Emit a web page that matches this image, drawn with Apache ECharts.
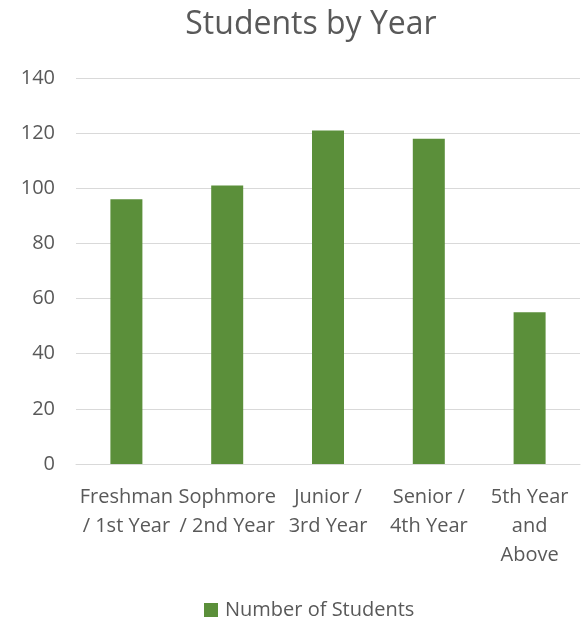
<!DOCTYPE html>
<html>
<head>
<meta charset="utf-8">
<script src="https://cdn.jsdelivr.net/npm/echarts@6/dist/echarts.min.js"></script>
<style>
  html, body { margin: 0; padding: 0; background: #fff; }
  #chart { width: 584px; height: 619px; }
</style>
</head>
<body>
<div id="chart"></div>
<script>
  // 类目 & 数值
  const categories = ['Freshman\n/ 1st Year', 'Sophmore\n/ 2nd Year', 'Junior /\n3rd Year', 'Senior /\n4th Year', '5th Year\nand\nAbove'];
  const students = [96, 101, 121, 118, 55];
  const seriesName = 'Number of Students';

  const font = '"Open Sans", "Liberation Sans", sans-serif';
  const grey = '#595959';

  let myChart = echarts.init(document.getElementById('chart'));
  myChart.setOption({
    animation: false,
    color: ['#5b8f3a'],
    title: {
      text: 'Students by Year',
      left: 306,
      textAlign: 'center',
      top: 4,
      textStyle: { fontFamily: font, fontSize: 32, fontWeight: 'normal', color: grey }
    },
    legend: {
      data: [seriesName],
      left: 199,
      top: 595,
      itemWidth: 14,
      itemHeight: 14,
      itemGap: 6,
      icon: 'rect',
      selectedMode: false,
      textStyle: { fontFamily: font, fontSize: 20, color: grey, padding: [0, 0, 0, 2] }
    },
    grid: { left: 76, right: 4, top: 78, bottom: 155 },
    xAxis: {
      type: 'category',
      data: categories,
      axisLine: { lineStyle: { color: '#d9d9d9' } },
      axisTick: { show: false },
      axisLabel: {
        interval: 0,
        margin: 19,
        lineHeight: 29,
        fontFamily: font,
        fontSize: 20,
        color: grey
      }
    },
    yAxis: {
      type: 'value',
      min: 0,
      max: 140,
      interval: 20,
      axisLine: { show: false },
      axisTick: { show: false },
      splitLine: { lineStyle: { color: '#d9d9d9' } },
      axisLabel: { margin: 21, fontFamily: font, fontSize: 20, color: grey }
    },
    series: [{
      name: seriesName,
      type: 'bar',
      barWidth: 32,
      data: students
    }]
  });
  window.addEventListener('resize', function () {
    myChart.resize();
  });
</script>
</body>
</html>
